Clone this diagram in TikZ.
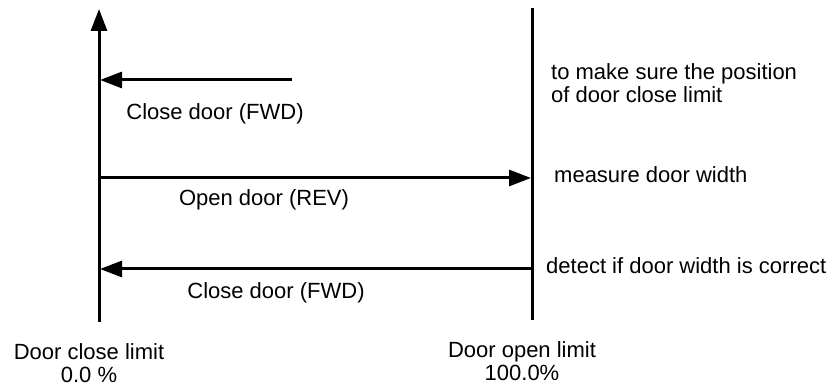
\documentclass[tikz,border=0pt]{standalone}
\usepackage{fontspec}
\setmainfont{Liberation Sans}
\usetikzlibrary{arrows.meta}
\tikzset{
  limitline/.style={line width=3pt},
  movearrow/.style={line width=3pt,-{Triangle[length=22pt,width=16pt]}},
  lbl/.style={font=\fontsize{22}{23}\selectfont,inner sep=0pt,text height=15pt,text depth=4pt}
}
\begin{document}
\begin{tikzpicture}[x=1pt,y=-1pt]
\useasboundingbox (0,0) rectangle (833,387);
% the two limits
\coordinate (closebot) at (99,322);
\coordinate (closetop) at (99,9);
\coordinate (opentop) at (532,8);
\coordinate (openbot) at (532,320);
\draw[movearrow] (closebot) -- (closetop);
\draw[limitline] (opentop) -- (openbot);
% moves
\coordinate (fwdstart) at (292,80);
\coordinate (fwdend) at (100,80);
\coordinate (revstart) at (99,178);
\coordinate (revend) at (531,178);
\coordinate (chkstart) at (532,269);
\coordinate (chkend) at (100,269);
\draw[movearrow] (fwdstart) -- (fwdend);
\draw[movearrow] (revstart) -- (revend);
\draw[movearrow] (chkstart) -- (chkend);
\node[lbl] (fwdtxt) at (215,114) {Close door (FWD)};
\node[lbl] (revtxt) at (264,200) {Open door (REV)};
\node[lbl] (chktxt) at (276,293) {Close door (FWD)};
% notes on the right
\node[lbl,anchor=west,align=left,text height=,text depth=] (sure) at (551,83) {to make sure the position\\of door close limit};
\node[lbl,anchor=west] (measure) at (554,177) {measure door width};
\node[lbl,anchor=west] (detect) at (546,268) {detect if door width is correct};
% limit names
\node[lbl,align=center,text height=,text depth=] (closelim) at (89,363) {Door close limit\\0.0 \%};
\node[lbl,align=center,text height=,text depth=] (openlim) at (522,361) {Door open limit\\100.0\%};
\end{tikzpicture}
\end{document}
